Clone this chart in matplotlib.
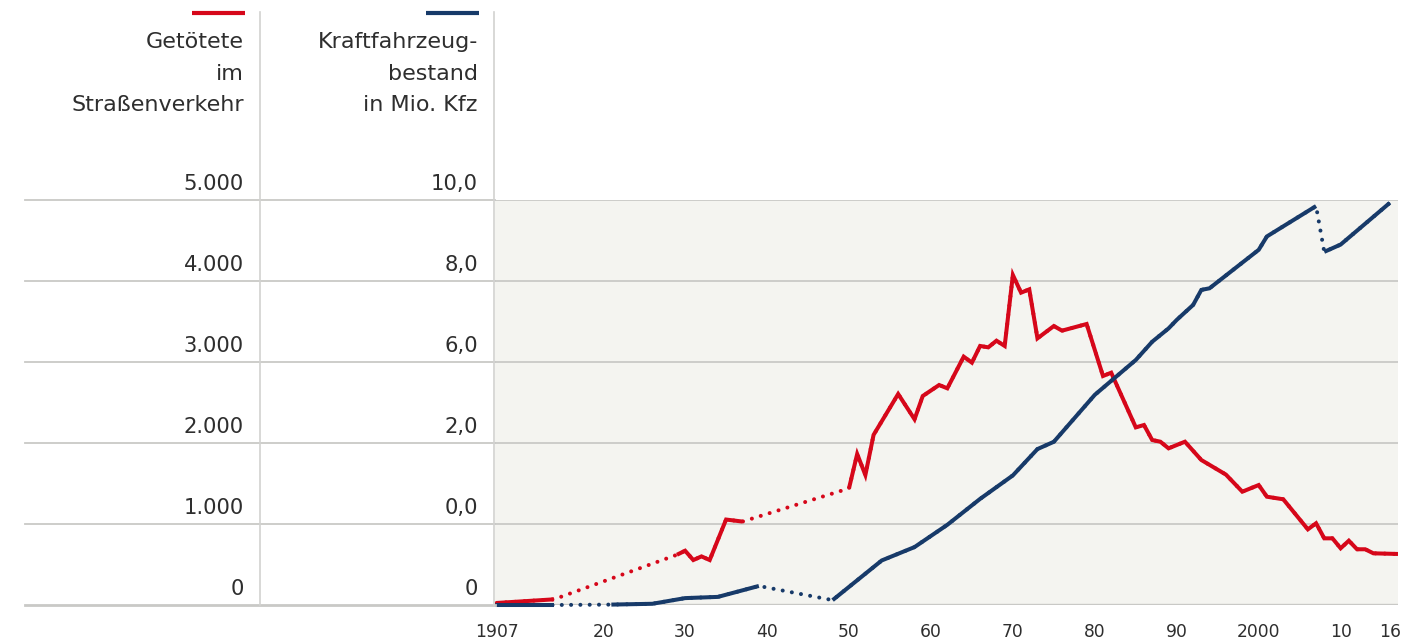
#!/usr/bin/env python3
"""
Road deaths vs. motor vehicle stock, 1907-2016
Two-column label panel on the left, line chart on the right
"""
import numpy as np
import matplotlib
matplotlib.use("Agg")
import matplotlib.pyplot as plt
from matplotlib.lines import Line2D
from matplotlib.transforms import blended_transform_factory

plt.rcParams['font.family'] = ['DejaVu Sans']

# --- data ---
# Getötete im Straßenverkehr
red_years = [1907, 1914, 1929, 1930, 1931, 1932, 1933, 1935, 1937,
             1950, 1951, 1952, 1953, 1956, 1958, 1959, 1961, 1962, 1964,
             1965, 1966, 1967, 1968, 1969, 1970, 1971, 1972, 1973, 1975,
             1976, 1979, 1981, 1982, 1985, 1986, 1987, 1988, 1989, 1991,
             1993, 1996, 1998, 2000, 2001, 2003, 2006, 2007, 2008, 2009,
             2010, 2011, 2012, 2013, 2014, 2017]
red_deaths = [25, 70, 620, 670, 555, 600, 555, 1055, 1030,
              1440, 1864, 1605, 2100, 2605, 2293, 2580, 2716, 2675, 3066,
              2992, 3198, 3181, 3263, 3198, 4074, 3856, 3897, 3292, 3444,
              3387, 3469, 2827, 2868, 2193, 2222, 2037, 2016, 1934, 2016,
              1790, 1610, 1399, 1481, 1337, 1305, 934, 1009, 823, 823,
              700, 794, 688, 688, 638, 630]
red_gaps = [(1914, 1929), (1937, 1950)]

# Kraftfahrzeugbestand in Mio. Kfz
blue_years = [1907, 1914, 1921, 1926, 1930, 1934, 1939, 1948, 1954, 1958,
              1962, 1966, 1970, 1973, 1975, 1980, 1985, 1987, 1989, 1990,
              1992, 1993, 1994, 2000, 2001, 2007, 2008, 2010, 2016]
blue_stock = [0.0, 0.0, 0.01, 0.03, 0.17, 0.2, 0.47, 0.12, 1.1, 1.43,
              1.98, 2.62, 3.2, 3.85, 4.03, 5.19, 6.05, 6.5, 6.83, 7.04,
              7.41, 7.78, 7.82, 8.77, 9.1, 9.85, 8.72, 8.9, 9.93]
blue_gaps = [(1914, 1921), (1939, 1948), (2007, 2008)]

left_ticks = [0, 1000, 2000, 3000, 4000, 5000]
left_labels = ['0', '1.000', '2.000', '3.000', '4.000', '5.000']
right_labels = ['0', '0,0', '2,0', '6,0', '8,0', '10,0']

x_ticks = [1907, 1920, 1930, 1940, 1950, 1960, 1970, 1980, 1990, 2000, 2010, 2016]
x_labels = ['1907', '20', '30', '40', '50', '60', '70', '80', '90', '2000', '10', '16']
grid_years = [1920, 1930, 1940, 1950, 1960, 1970, 1980, 1990, 2000, 2010]

RED = '#d6071a'
BLUE = '#173a69'
TEXT = '#2e2e2e'
GRID = '#c9c9c6'
BG = '#f4f4f0'


def solid_series(years, values, gaps):
    """Insert NaN between points that are joined only by a dotted line"""
    xs, ys = [years[0]], [values[0]]
    for i in range(1, len(years)):
        if (years[i - 1], years[i]) in gaps:
            xs.append(np.nan)
            ys.append(np.nan)
        xs.append(years[i])
        ys.append(values[i])
    return xs, ys


W, H = 1418, 641
fig = plt.figure(figsize=(W / 100, H / 100), dpi=100)
fig.patch.set_facecolor('white')

ax = fig.add_axes([495 / W, 1 - 605 / H, (1398 - 495) / W, (605 - 200) / H])
ax.set_facecolor(BG)
ax.set_xlim(1906.8, 2017)
ax.set_ylim(0, 5000)
for s in ax.spines.values():
    s.set_visible(False)

ax.set_yticks(left_ticks)
ax.set_yticklabels([])
ax.set_xticks(x_ticks)
ax.set_xticklabels(x_labels, fontsize=12.3, color=TEXT)
for t in ax.get_xticklabels():
    t.set_verticalalignment('baseline')
ax.set_xticks(grid_years, minor=True)
ax.tick_params(axis='both', which='both', length=0)
ax.tick_params(axis='x', pad=23)
ax.grid(axis='y', color=GRID, lw=1.3, zorder=0)
ax.grid(axis='x', which='minor', color='white', lw=1.6, zorder=0)
ax.set_axisbelow(True)
ax.axhline(0, color=GRID, lw=2.4, zorder=1)

# blue on its own scale
ax2 = ax.twinx()
ax2.set_ylim(0, 10)
ax2.set_xlim(ax.get_xlim())
ax2.axis('off')

lw = 2.9
dots = (0, (0.01, 2.3))

ax.plot(red_years, red_deaths, color=RED, lw=lw, ls=dots,
        dash_capstyle='round', zorder=3)
rx, ry = solid_series(red_years, red_deaths, red_gaps)
ax.plot(rx, ry, color=RED, lw=lw, solid_joinstyle='miter',
        solid_capstyle='butt', zorder=3)

ax2.plot(blue_years, blue_stock, color=BLUE, lw=lw, ls=dots,
         dash_capstyle='round', zorder=4, clip_on=False)
bx, by = solid_series(blue_years, blue_stock, blue_gaps)
ax2.plot(bx, by, color=BLUE, lw=lw, solid_joinstyle='miter',
         solid_capstyle='butt', zorder=4, clip_on=False)

# left label panel
trans = blended_transform_factory(fig.transFigure, ax.transData)
for v, l1, l2 in zip(left_ticks, left_labels, right_labels):
    fig.add_artist(Line2D([25 / W, 495 / W], [v, v], transform=trans,
                          color=GRID, lw=1.3 if v else 2.0))
    ax.annotate(l1, xy=(244 / W, v), xycoords=trans, xytext=(0, 7),
                textcoords='offset points', ha='right', va='baseline',
                fontsize=15.2, color=TEXT, annotation_clip=False)
    ax.annotate(l2, xy=(478 / W, v), xycoords=trans, xytext=(0, 7),
                textcoords='offset points', ha='right', va='baseline',
                fontsize=15.2, color=TEXT, annotation_clip=False)

for px in (260, 494):
    fig.add_artist(Line2D([px / W, px / W], [1 - 12 / H, 1 - 605 / H],
                          transform=fig.transFigure, color='#d2d2d0', lw=1.2))

# legend swatches and headers
fig.add_artist(Line2D([192 / W, 245 / W], [1 - 13 / H] * 2, transform=fig.transFigure,
                      color=RED, lw=3, solid_capstyle='butt'))
fig.add_artist(Line2D([426 / W, 479 / W], [1 - 13 / H] * 2, transform=fig.transFigure,
                      color=BLUE, lw=3, solid_capstyle='butt'))

head1 = ['Getötete', 'im', 'Straßenverkehr']
head2 = ['Kraftfahrzeug-', 'bestand', 'in Mio. Kfz']
for i, (a, b) in enumerate(zip(head1, head2)):
    yb = 1 - (48 + i * 31.7) / H
    fig.text(244 / W, yb, a, ha='right', va='baseline', fontsize=16, color=TEXT)
    fig.text(478 / W, yb, b, ha='right', va='baseline', fontsize=16, color=TEXT)

plt.savefig('out.png', dpi=100, facecolor='white')
